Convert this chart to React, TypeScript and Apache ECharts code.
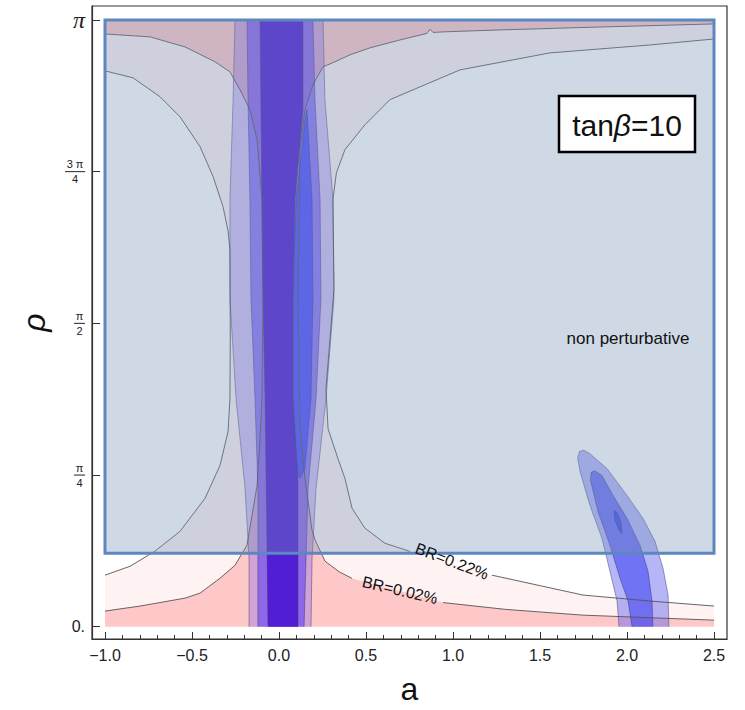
import React, { useEffect, useRef } from 'react';
import * as echarts from 'echarts';

const PI = Math.PI;

// ---------- axes ----------
const X_RANGE = [-1.0747, 2.5747];
const Y_RANGE = [-0.0635, 3.2138];
const X_MAJOR = [-1.0, -0.5, 0.0, 0.5, 1.0, 1.5, 2.0, 2.5];
const X_MINOR = [-1.0, -0.9, -0.8, -0.7, -0.6, -0.5, -0.4, -0.3, -0.2, -0.1, 0.0, 0.1, 0.2, 0.3, 0.4, 0.5, 0.6, 0.7, 0.8, 0.9, 1.0, 1.1, 1.2, 1.3, 1.4, 1.5, 1.6, 1.7, 1.8, 1.9, 2.0, 2.1, 2.2, 2.3, 2.4, 2.5];
const Y_TICKS = [0, PI / 4, PI / 2, (3 * PI) / 4, PI];
const Y_TICK_LABELS = ['0.', 'π/4', 'π/2', '3 π/4', 'π'];

// ---------- plotted domain ----------
const DOMAIN: number[][] = [[-1, 0], [2.5, 0], [2.5, PI], [-1, PI]];

// ---------- BR contours (a, rho) ----------
const BR02_LEFT: number[][] = [[-1, 3.069], [-0.741, 3.054], [-0.54, 3.002], [-0.368, 2.925], [-0.282, 2.873], [-0.224, 2.78], [-0.167, 2.677], [-0.126, 2.522], [-0.098, 2.212], [-0.092, 1.697], [-0.098, 1.18], [-0.109, 0.974], [-0.126, 0.731], [-0.184, 0.422], [-0.253, 0.318], [-0.339, 0.251], [-0.454, 0.174], [-0.54, 0.148], [-0.799, 0.107], [-1, 0.081]];
const BR02_RIGHT_A: number[][] = [[2.5, 3.121], [1.845, 3.105], [1.27, 3.09], [0.95, 3.08], [0.885, 3.077], [0.868, 3.093], [0.85, 3.072], [0.695, 3.038], [0.523, 2.997], [0.408, 2.961], [0.322, 2.925], [0.253, 2.899], [0.195, 2.806], [0.149, 2.677], [0.121, 2.47], [0.109, 1.697], [0.121, 1.025], [0.149, 0.768], [0.19, 0.5], [0.207, 0.45], [0.264, 0.34], [0.345, 0.285], [0.42, 0.25]];
const BR02_RIGHT_B: number[][] = [[0.943, 0.125], [1.3, 0.09], [1.747, 0.06], [2.5, 0.034]];
const BR22_LEFT: number[][] = [[-1, 2.878], [-0.839, 2.842], [-0.684, 2.744], [-0.569, 2.64], [-0.454, 2.486], [-0.379, 2.331], [-0.322, 2.176], [-0.293, 2.05], [-0.282, 1.954], [-0.28, 1.5], [-0.282, 1.18], [-0.293, 1.01], [-0.339, 0.835], [-0.425, 0.665], [-0.569, 0.494], [-0.713, 0.391], [-0.856, 0.313], [-1, 0.267]];
const BR22_RIGHT_A: number[][] = [[2.5, 3.043], [2.132, 3.012], [1.557, 2.971], [1.04, 2.883], [0.638, 2.729], [0.494, 2.599], [0.379, 2.47], [0.33, 2.35], [0.31, 2.212], [0.316, 1.748], [0.293, 1.49], [0.27, 1.232], [0.282, 1.025], [0.339, 0.87], [0.379, 0.768], [0.42, 0.613], [0.494, 0.51], [0.609, 0.432], [0.753, 0.39]];
const BR22_RIGHT_B: number[][] = [[1.224, 0.267], [1.747, 0.164], [2.132, 0.133], [2.5, 0.107]];

// ---------- fit regions near a = 0 (edges, bottom->top for left, top->bottom for right) ----------
const BAND_OUTER_L: number[][] = [[-0.172, 0], [-0.172, 0.355], [-0.195, 0.716], [-0.247, 1.18], [-0.282, 1.697], [-0.282, 2.212], [-0.264, 2.729], [-0.253, PI]];
const BAND_OUTER_R: number[][] = [[0.253, PI], [0.264, 2.729], [0.31, 2.212], [0.316, 1.697], [0.27, 1.18], [0.213, 0.716], [0.19, 0.355], [0.184, 0]];
const BAND_MID_L: number[][] = [[-0.121, 0], [-0.121, 0.716], [-0.138, 1.18], [-0.161, 1.697], [-0.167, 2.212], [-0.178, 2.729], [-0.184, PI]];
const BAND_MID_R: number[][] = [[0.195, PI], [0.207, 2.729], [0.236, 2.212], [0.241, 1.697], [0.213, 1.18], [0.167, 0.716], [0.144, 0]];
const BAND_LENS: number[][] = [[0.161, 2.677], [0.19, 2.212], [0.195, 1.697], [0.184, 1.18], [0.149, 0.819], [0.121, 0.768], [0.098, 0.819], [0.08, 1.18], [0.08, 1.697], [0.098, 2.212], [0.149, 2.625]];
const BAND_CORE_L: number[][] = [[-0.063, 0], [-0.08, 1.18], [-0.092, 1.697], [-0.109, PI]];
const BAND_CORE_R: number[][] = [[0.138, PI], [0.138, 2.677], [0.092, 2.212], [0.08, 1.697], [0.08, 1.18], [0.109, 0.768], [0.109, 0]];

// ---------- fit regions near a = 2 ----------
const ISLAND_OUTER: number[][] = [[1.954, 0], [1.943, 0.133], [1.902, 0.287], [1.856, 0.458], [1.787, 0.628], [1.73, 0.804], [1.716, 0.875], [1.728, 0.908], [1.752, 0.914], [1.787, 0.896], [1.885, 0.819], [2.0, 0.68], [2.092, 0.561], [2.161, 0.442], [2.207, 0.303], [2.236, 0.164], [2.241, 0]];
const ISLAND_MID: number[][] = [[2.029, 0], [2.006, 0.133], [1.96, 0.251], [1.902, 0.422], [1.833, 0.597], [1.79, 0.76], [1.795, 0.8], [1.815, 0.808], [1.856, 0.783], [1.92, 0.68], [2.0, 0.561], [2.075, 0.422], [2.121, 0.287], [2.144, 0.133], [2.149, 0]];
const ISLAND_CORE: number[][] = [[1.925, 0.602], [1.948, 0.586], [1.966, 0.535], [1.971, 0.484], [1.954, 0.499], [1.931, 0.551], [1.925, 0.602]];

// ---------- non-perturbative region ----------
const NP_A = [-1, 2.5];
const NP_RHO = [0.38, PI];

// ---------- contour labels ----------
const BR_LABEL_TEXT = ['BR=0.22%', 'BR=0.02%'];
const BR_LABEL_AT: number[][] = [[0.994, 0.339], [0.695, 0.189]];
const BR_LABEL_ROT = [-0.36, -0.23];

const FONT = '"Liberation Sans", Arial, sans-serif';

function fillSeries(polys: number[][][], fill: string) {
  return {
    type: 'custom',
    coordinateSystem: 'cartesian2d',
    silent: true,
    animation: false,
    data: polys.map((p, i) => [p[0][0], p[0][1], i]),
    renderItem: (params: any, api: any) => ({
      type: 'polygon',
      shape: { points: polys[params.dataIndex].map((pt) => api.coord(pt)) },
      style: { fill, stroke: 'none' },
    }),
  };
}

function lineSeries(lines: number[][][], stroke: string, width: number) {
  return {
    type: 'custom',
    coordinateSystem: 'cartesian2d',
    silent: true,
    animation: false,
    data: lines.map((p, i) => [p[0][0], p[0][1], i]),
    renderItem: (params: any, api: any) => ({
      type: 'polyline',
      shape: { points: lines[params.dataIndex].map((pt) => api.coord(pt)) },
      style: { fill: 'none', stroke, lineWidth: width },
    }),
  };
}

function yLabel(v: number) {
  let idx = 0;
  Y_TICKS.forEach((t, i) => {
    if (Math.abs(t - v) < 1e-6) idx = i;
  });
  const s = Y_TICK_LABELS[idx];
  if (s === '0.') return '{z|0.}';
  if (s === 'π') return '{pi|π}';
  const [num, den] = s.split('/');
  const k = num.length > 1 ? 'w' : 'n';
  return `{${k}num|${num}}\n{${k}bar| }\n{${k}den|${den}}`;
}

export default function App() {
  const ref = useRef<HTMLDivElement>(null);
  useEffect(() => {
    if (!ref.current) return;
    const chart = echarts.init(ref.current, null, { renderer: 'svg' });
    const blueEdge = 'rgba(55,55,110,0.6)';
    const option: any = {
      animation: false,
      grid: { left: 92, top: 6, width: 635, height: 635, show: true, borderColor: '#333', borderWidth: 1.2, backgroundColor: 'transparent' },
      xAxis: [
        {
          type: 'value', min: X_RANGE[0], max: X_RANGE[1], position: 'bottom',
          axisLine: { show: true, onZero: false, lineStyle: { color: '#333', width: 1.2 } },
          axisTick: { show: true, inside: true, length: 7, customValues: X_MAJOR, lineStyle: { color: '#333' } },
          axisLabel: { customValues: X_MAJOR, fontSize: 16, fontFamily: FONT, color: '#222', margin: 8, formatter: (v: number) => (v < 0 ? '−' : '') + Math.abs(v).toFixed(1) },
          splitLine: { show: false },
          name: 'a', nameLocation: 'middle', nameGap: 34,
          nameTextStyle: { fontSize: 32, fontFamily: FONT, color: '#111' },
        },
        {
          type: 'value', min: X_RANGE[0], max: X_RANGE[1], position: 'bottom',
          axisLine: { show: false, onZero: false },
          axisTick: { show: true, inside: true, length: 4, customValues: X_MINOR, lineStyle: { color: '#333' } },
          axisLabel: { show: false },
          splitLine: { show: false },
        },
      ],
      yAxis: {
        type: 'value', min: Y_RANGE[0], max: Y_RANGE[1],
        axisLine: { show: true, onZero: false, lineStyle: { color: '#333', width: 1.2 } },
        axisTick: { show: true, inside: true, length: 8, customValues: Y_TICKS, lineStyle: { color: '#333' } },
        axisLabel: {
          customValues: Y_TICKS, margin: 7, color: '#222', formatter: yLabel,
          rich: {
            z: { fontSize: 16, fontFamily: FONT, color: '#222' },
            pi: { fontSize: 24, fontFamily: '"Liberation Serif", serif', fontStyle: 'italic', color: '#222' },
            wnum: { fontSize: 11, fontFamily: FONT, width: 20, align: 'center', lineHeight: 12 },
            wbar: { fontSize: 1, width: 20, height: 1, lineHeight: 3, backgroundColor: '#222' },
            wden: { fontSize: 11, fontFamily: FONT, width: 20, align: 'center', lineHeight: 12 },
            nnum: { fontSize: 11, fontFamily: FONT, width: 11, align: 'center', lineHeight: 12 },
            nbar: { fontSize: 1, width: 11, height: 1, lineHeight: 3, backgroundColor: '#222' },
            nden: { fontSize: 11, fontFamily: FONT, width: 11, align: 'center', lineHeight: 12 },
          },
        },
        splitLine: { show: false },
        name: 'ρ', nameLocation: 'middle', nameGap: 42,
        nameTextStyle: { fontSize: 32, fontFamily: FONT, fontStyle: 'italic', color: '#111' },
      },
      series: [
        fillSeries([DOMAIN], '#ffc8c8'),
        fillSeries([BR02_LEFT, [...BR02_RIGHT_A, ...BR02_RIGHT_B]], '#fff2f2'),
        fillSeries([BR22_LEFT, [...BR22_RIGHT_A, ...BR22_RIGHT_B]], '#ffffff'),
        fillSeries([[...BAND_OUTER_L, ...BAND_OUTER_R]], 'rgba(110,85,245,0.32)'),
        fillSeries([[...BAND_MID_L, ...BAND_MID_R]], 'rgba(75,45,250,0.5)'),
        fillSeries([BAND_LENS], 'rgba(60,70,255,0.75)'),
        fillSeries([[...BAND_CORE_L, ...BAND_CORE_R]], 'rgba(78,25,210,0.93)'),
        fillSeries([ISLAND_OUTER], 'rgba(90,90,240,0.45)'),
        fillSeries([ISLAND_MID], 'rgba(55,60,240,0.55)'),
        fillSeries([ISLAND_CORE], 'rgba(40,70,245,0.7)'),
        lineSeries([BR02_LEFT, BR02_RIGHT_A, BR02_RIGHT_B, BR22_LEFT, BR22_RIGHT_A, BR22_RIGHT_B], '#555', 0.9),
        lineSeries([BAND_OUTER_L, BAND_OUTER_R, BAND_MID_L, BAND_MID_R, BAND_CORE_L, BAND_CORE_R, [...BAND_LENS, BAND_LENS[0]], ISLAND_OUTER, ISLAND_MID, ISLAND_CORE], blueEdge, 0.8),
        {
          type: 'custom', coordinateSystem: 'cartesian2d', silent: true, animation: false,
          data: [[NP_A[0], NP_RHO[0]]],
          renderItem: (params: any, api: any) => {
            const p0 = api.coord([NP_A[0], NP_RHO[1]]);
            const p1 = api.coord([NP_A[1], NP_RHO[0]]);
            return {
              type: 'rect',
              shape: { x: p0[0], y: p0[1], width: p1[0] - p0[0], height: p1[1] - p0[1] },
              style: { fill: 'rgba(118,146,184,0.35)', stroke: '#5d87c1', lineWidth: 3 },
            };
          },
        },
        {
          type: 'custom', coordinateSystem: 'cartesian2d', silent: true, animation: false,
          data: BR_LABEL_AT.map((p, i) => [p[0], p[1], i]),
          renderItem: (params: any, api: any) => {
            const i = params.dataIndex;
            const c = api.coord(BR_LABEL_AT[i]);
            return {
              type: 'text', x: c[0], y: c[1], rotation: BR_LABEL_ROT[i],
              style: { text: BR_LABEL_TEXT[i], fontSize: 16, fontFamily: FONT, fill: '#111', align: 'center', verticalAlign: 'middle' },
            };
          },
        },
      ],
      graphic: [
        { type: 'text', x: 628, y: 338, z: 100, style: { text: 'non perturbative', fontSize: 17, fontFamily: FONT, fill: '#111', align: 'center', verticalAlign: 'middle' } },
        { type: 'rect', x: 559, y: 96, z: 100, shape: { width: 136, height: 56 }, style: { fill: '#fff', stroke: '#000', lineWidth: 2.5 } },
        {
          type: 'text', x: 627, y: 125, z: 101,
          style: {
            text: '{n|tan}{b|β}{n|=10}', align: 'center', verticalAlign: 'middle',
            rich: {
              n: { fontSize: 30, fontFamily: FONT, fill: '#111' },
              b: { fontSize: 30, fontFamily: FONT, fontStyle: 'italic', fill: '#111' },
            },
          },
        },
      ],
    };
    chart.setOption(option);
    return () => chart.dispose();
  }, []);
  return <div ref={ref} style={{ position: 'absolute', left: 0, top: 0, width: 745, height: 710 }} />;
}
